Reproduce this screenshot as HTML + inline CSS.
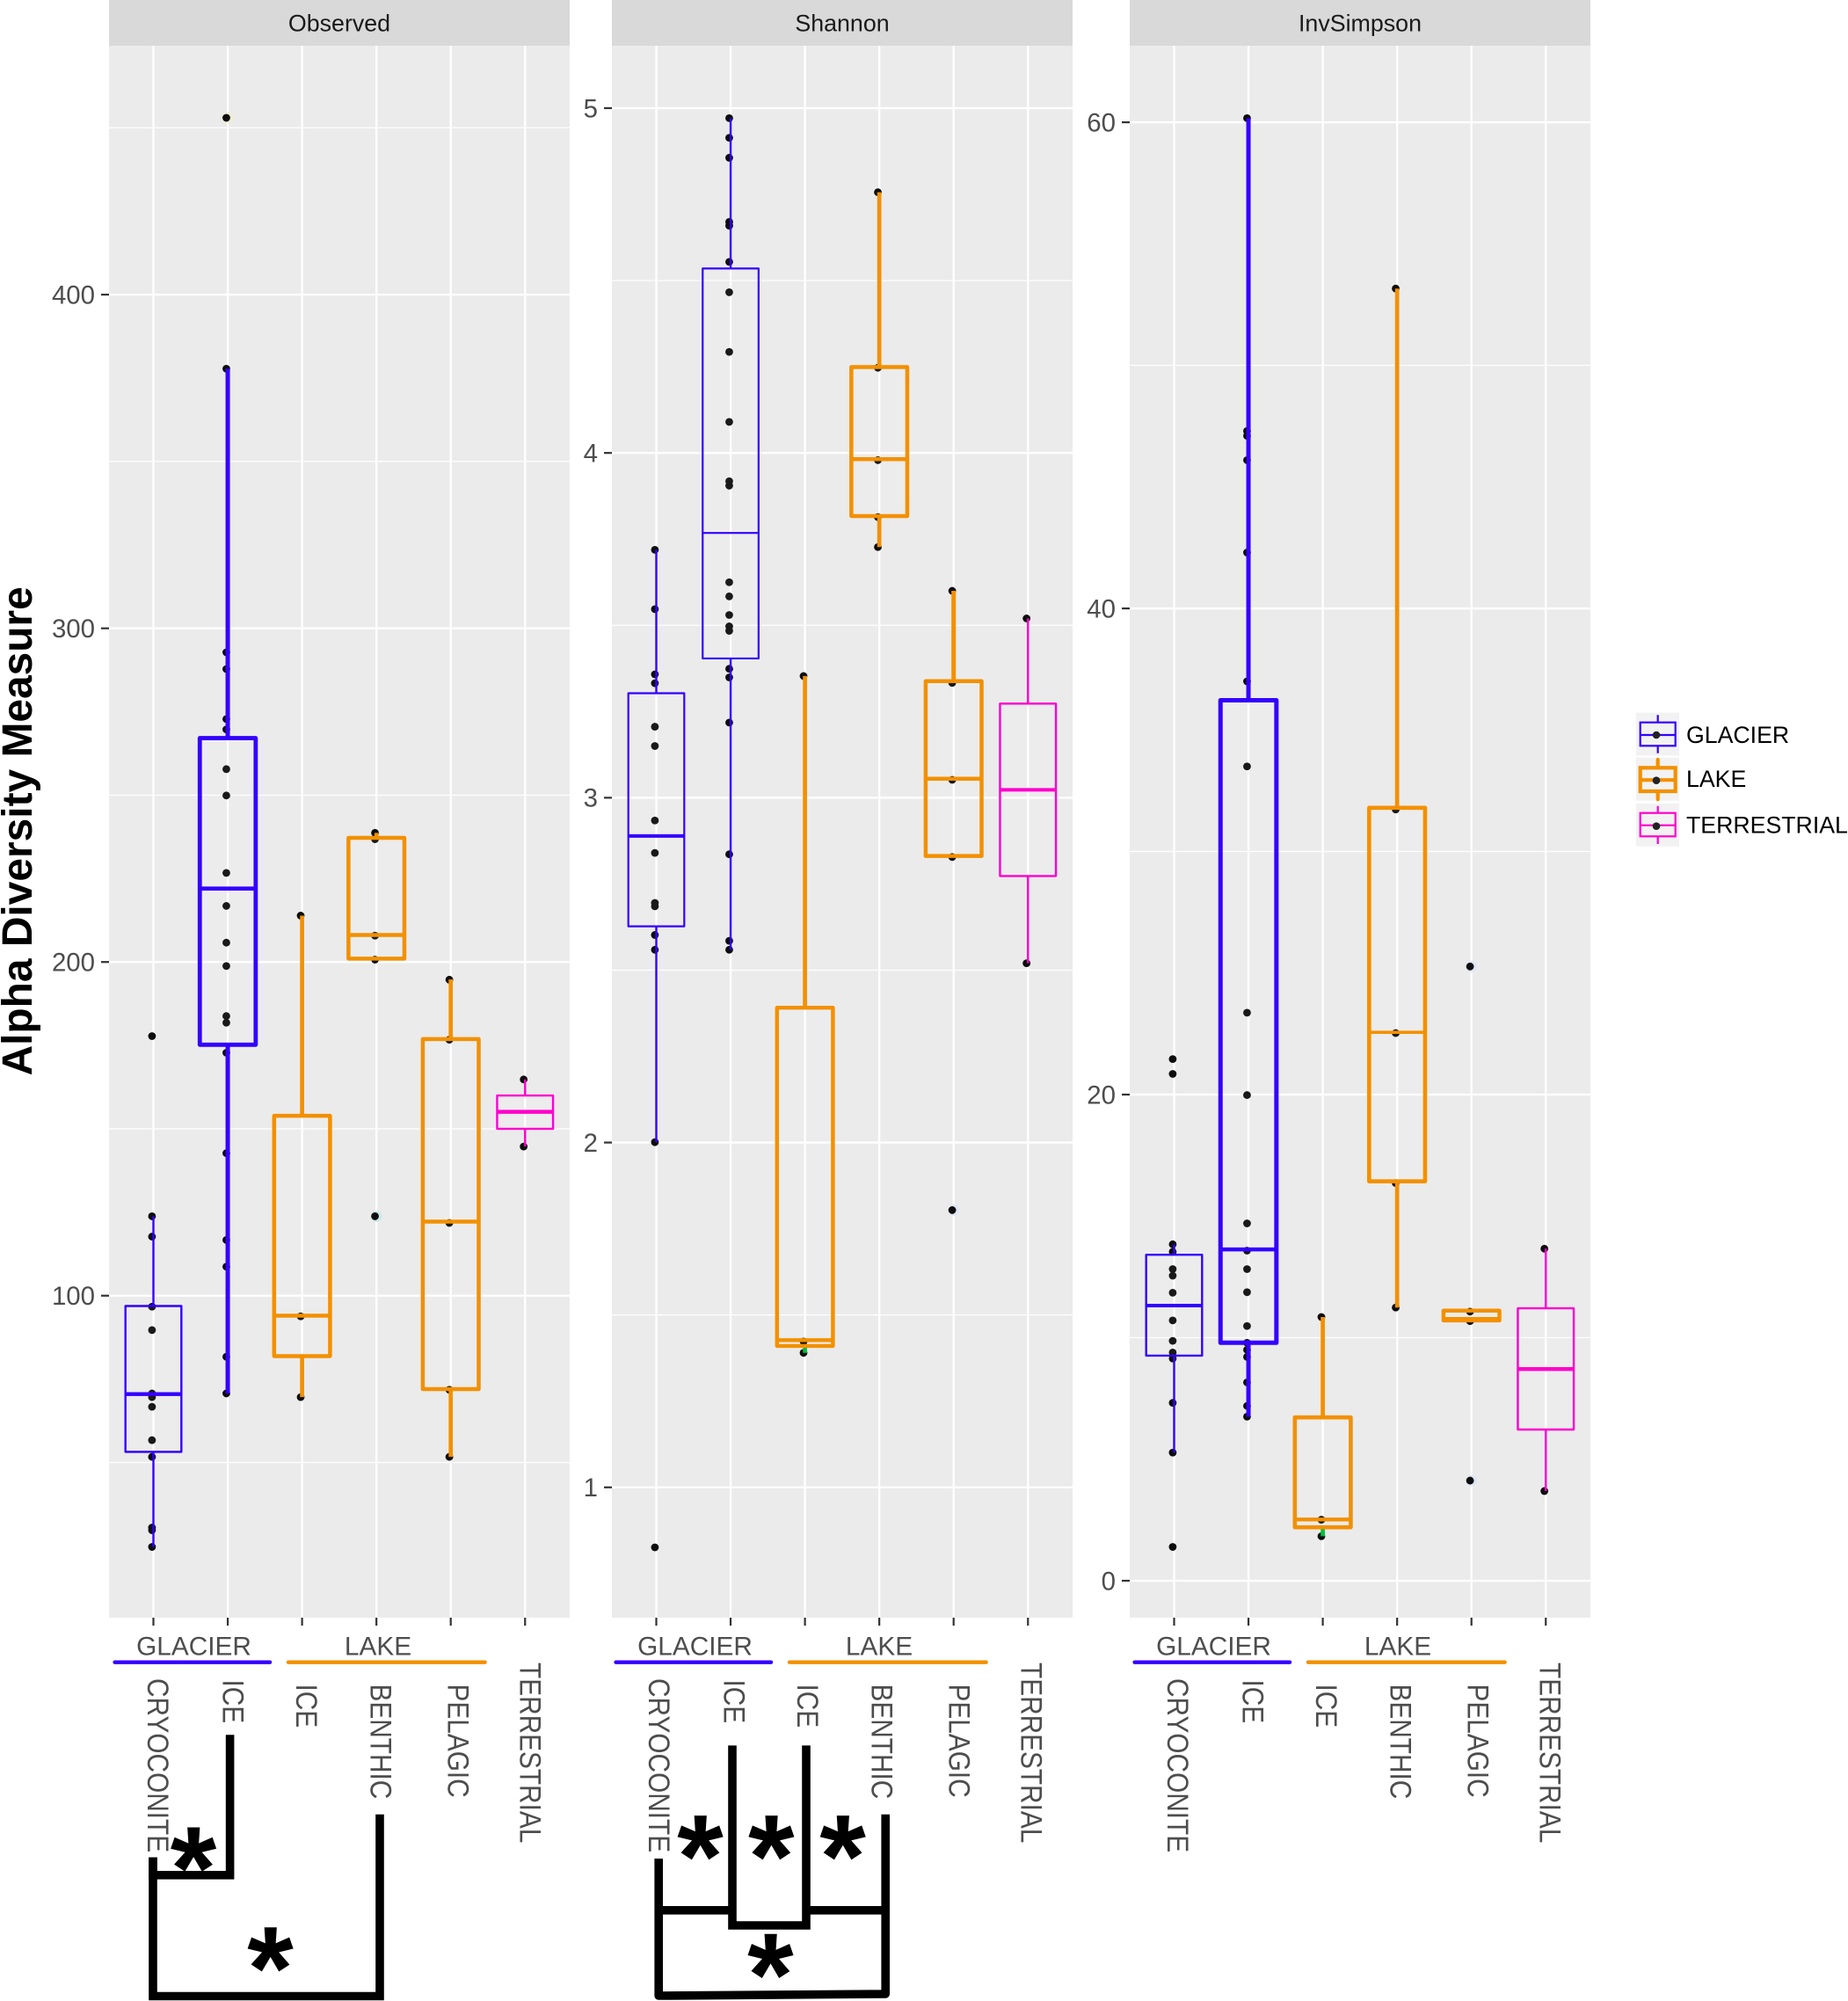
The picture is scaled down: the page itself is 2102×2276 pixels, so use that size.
<!DOCTYPE html>
<html lang="en">
<head>
<meta charset="utf-8">
<title>Alpha Diversity Measure</title>
<style>
html,body{margin:0;padding:0;background:#fff;width:2102px;height:2276px;overflow:hidden}
svg{position:absolute;left:0;top:0;font-family:"Liberation Sans",sans-serif}
.star{font-weight:bold;font-size:135px;text-anchor:middle;fill:#000}
.legend-label{font-size:26.7px;fill:#000}
</style>
</head>
<body>
<svg id="chart" width="2102" height="2276" viewBox="0 0 2102 2276" xmlns="http://www.w3.org/2000/svg">
  <rect x="0" y="0" width="2102" height="2276" fill="#ffffff"/>
  <text transform="translate(36,1223.5) rotate(-90)" font-size="47.9" font-weight="bold" fill="#000">Alpha Diversity Measure</text>

  <g id="panels"></g>

  <g>
    <g>
      <rect x="1861" y="810.7" width="49" height="48.7" fill="#f2f2f2"/>
      <path d="M1885.7 813.3V821.7M1885.7 848.3V856.7" stroke="#3300ff" stroke-width="2.2" fill="none"/>
      <rect x="1865.7" y="821.7" width="40" height="26.6" stroke="#3300ff" stroke-width="2.2" fill="none"/>
      <path d="M1865.7 836H1905.7" stroke="#3300ff" stroke-width="2.2"/>
      <circle cx="1884" cy="836" r="4.3" fill="#222"/>
      <text class="legend-label" x="1918" y="845">GLACIER</text>
    </g>
    <g>
      <rect x="1861" y="861.7" width="49" height="49" fill="#f2f2f2"/>
      <path d="M1885.7 864V873.3M1885.7 900V909.3" stroke="#f39000" stroke-width="4.2" fill="none" stroke-linecap="round"/>
      <rect x="1865.7" y="873.3" width="40" height="26.7" stroke="#f39000" stroke-width="4.2" fill="none"/>
      <path d="M1865.7 887.2H1905.7" stroke="#f39000" stroke-width="4.2"/>
      <circle cx="1884" cy="887.7" r="4.3" fill="#222"/>
      <text class="legend-label" x="1918" y="895">LAKE</text>
    </g>
    <g>
      <rect x="1861" y="914" width="49" height="48.7" fill="#f2f2f2"/>
      <path d="M1885.7 916.7V924.7M1885.7 951.3V960" stroke="#ff00cc" stroke-width="2.2" fill="none"/>
      <rect x="1865.7" y="924.7" width="40" height="26.6" stroke="#ff00cc" stroke-width="2.2" fill="none"/>
      <path d="M1865.7 938.7H1905.7" stroke="#ff00cc" stroke-width="2.2"/>
      <circle cx="1884" cy="939.7" r="4.3" fill="#222"/>
      <text class="legend-label" x="1918" y="947.7">TERRESTRIAL</text>
    </g>
  </g>

  <g>
    <path d="M174 2112.6V2132.8H261.6V1973.3" fill="none" stroke="#000" stroke-width="9.6"/>
    <path d="M174 2112.6V2270.5H432V2063.7" fill="none" stroke="#000" stroke-width="9.6"/>
    <text class="star" x="220" y="2171.4">*</text>
    <text class="star" x="307.5" y="2285.2">*</text>
  </g>
  <g>
    <path d="M749.2 2114V2270L1007.2 2268V2063.7" fill="none" stroke="#000" stroke-width="9.6" stroke-linejoin="round"/>
    <path d="M749.2 2172.8H833" fill="none" stroke="#000" stroke-width="9.6"/>
    <path d="M833 1985.4V2190H917V1985.4" fill="none" stroke="#000" stroke-width="9.6"/>
    <path d="M917 2172.8H1007.2" fill="none" stroke="#000" stroke-width="9.6"/>
    <text class="star" x="796.5" y="2158">*</text>
    <text class="star" x="877.3" y="2158">*</text>
    <text class="star" x="958.6" y="2158">*</text>
    <text class="star" x="876.4" y="2292.7">*</text>
  </g>
</svg>
<script>
// ---- shared categories ----
const categories = ['CRYOCONITE', 'ICE', 'ICE', 'BENTHIC', 'PELAGIC', 'TERRESTRIAL'];
const habitats = ['GLACIER', 'GLACIER', 'LAKE', 'LAKE', 'LAKE', 'TERRESTRIAL'];
const panelTitles = ['Observed', 'Shannon', 'InvSimpson'];

// ---- tick labels ----
const observedMajorTicks = [100, 200, 300, 400];
const observedMinorTicks = [50, 150, 250, 350, 450];
const shannonMajorTicks = [1, 2, 3, 4, 5];
const shannonMinorTicks = [1.5, 2.5, 3.5, 4.5];
const invSimpsonMajorTicks = [0, 20, 40, 60];
const invSimpsonMinorTicks = [10, 30, 50];

// ---- individual samples, per category ----
const observedPoints = [
  [177.8, 123.8, 117.7, 96.7, 89.7, 70.7, 69.6, 66.7, 56.7, 51.7, 30.5, 29.7, 24.7],
  [453, 377.8, 292.8, 287.8, 272.8, 269.7, 257.8, 249.9, 226.7, 216.8, 205.8, 198.8, 183.8, 181.8, 172.8, 142.7, 116.7, 108.7, 81.7, 70.7],
  [213.9, 93.8, 69.6],
  [238.7, 236.8, 207.9, 200.7, 123.8],
  [194.7, 176.7, 121.8, 71.8, 51.7],
  [164.8, 144.7]
];
const shannonPoints = [
  [3.719, 3.547, 3.358, 3.332, 3.206, 3.15, 2.934, 2.84, 2.695, 2.685, 2.602, 2.559, 2.001, 0.826],
  [4.971, 4.914, 4.856, 4.67, 4.659, 4.554, 4.466, 4.293, 4.09, 3.918, 3.905, 3.625, 3.584, 3.53, 3.497, 3.484, 3.374, 3.349, 3.218, 2.836, 2.585, 2.559],
  [3.353, 1.423, 1.39],
  [4.756, 4.247, 3.979, 3.814, 3.727],
  [3.6, 3.333, 3.052, 2.828, 1.804],
  [3.52, 2.52]
];
const invSimpsonPoints = [
  [21.46, 20.85, 13.84, 13.53, 12.82, 12.55, 11.85, 10.71, 9.87, 9.39, 9.14, 7.32, 5.27, 1.39],
  [60.17, 47.3, 47.1, 46.1, 42.3, 37.0, 33.5, 23.37, 19.98, 14.7, 13.58, 12.82, 11.87, 10.48, 9.79, 9.5, 9.21, 8.16, 7.19, 6.75],
  [10.85, 2.51, 1.83],
  [53.16, 31.73, 22.53, 16.36, 11.24],
  [25.27, 11.07, 10.68, 4.12],
  [13.66, 3.69]
];

// ---- box summaries: whisker low, Q1, median, Q3, whisker high ----
const observedBoxes = [
  [24.7, 53.2, 70.5, 96.9, 123.8],
  [70.7, 175.2, 222, 267.1, 377.8],
  [69.6, 81.9, 94, 153.9, 213.9],
  [200.9, 201, 208.1, 237.2, 238.7],
  [51.7, 72, 122.2, 176.9, 194.8],
  [144.7, 150, 155.1, 160, 164.8]
];
const shannonBoxes = [
  [2.001, 2.627, 2.889, 3.303, 3.719],
  [2.559, 3.404, 3.768, 4.535, 4.971],
  [1.39, 1.41, 1.427, 2.391, 3.353],
  [3.727, 3.817, 3.982, 4.249, 4.756],
  [2.828, 2.831, 3.055, 3.338, 3.6],
  [2.52, 2.773, 3.023, 3.273, 3.52]
];
const invSimpsonBoxes = [
  [5.27, 9.26, 11.32, 13.41, 13.84],
  [6.75, 9.79, 13.63, 36.22, 60.17],
  [1.83, 2.2, 2.52, 6.72, 10.85],
  [11.24, 16.43, 22.56, 31.8, 53.16],
  [10.68, 10.71, 10.77, 11.11, 11.11],
  [3.69, 6.22, 8.71, 11.21, 13.66]
];

// ---- faint outlier glyphs behind the samples ----
const observedOutliers = [[], [453], [], [123.8], [], []];
const shannonOutliers = [[], [], [], [], [1.804], []];
const invSimpsonOutliers = [[], [], [], [], [25.27, 4.12], []];

// ---- styling and layout (not data) ----
const habitatColors = {GLACIER: '#3300ff', LAKE: '#f39000', TERRESTRIAL: '#ff00cc'};
const outlierTints = ['#efeed6', '#cfe8e8', '#dfe6f5'];
const lowWhiskerGreen = '#00c040';
const strokeSets = [
  [[2.4,4.4,2.4],[4.8,4.6,5],[4.5,4.5,4.7],[4.5,4.5,4.5],[4.5,4.5,4.7],[2.4,4.4,2.4]],
  [[2.2,4,2.4],[2.2,2.2,2.4],[4.4,4.4,4.7],[4.5,4.5,4.7],[4.5,4.5,5],[2.4,4,2.4]],
  [[2.4,4,2.4],[5,4.4,5],[4.6,4.4,4.7],[4.6,3.6,4.7],[4.5,4.5,4.5],[2.4,4.4,2.4]]
];
const PANEL_TOP = 52, PANEL_BOTTOM = 1840, PANEL_W = 524;
const panelLeft = [124, 696, 1285];
const yDomains = [[3.5, 474.6], [0.622, 5.181], [-1.52, 63.15]];
const labelOffset = [0, 570, 1160];
const labelLeft = [168, 253.3, 337.2, 421.5, 509.5, 591.5];
const labelTop = [1909, 1910.5, 1915.5, 1915.5, 1915.5, 1891];

const panelData = [
  {points: observedPoints, boxes: observedBoxes, outliers: observedOutliers, major: observedMajorTicks, minor: observedMinorTicks},
  {points: shannonPoints, boxes: shannonBoxes, outliers: shannonOutliers, major: shannonMajorTicks, minor: shannonMinorTicks},
  {points: invSimpsonPoints, boxes: invSimpsonBoxes, outliers: invSimpsonOutliers, major: invSimpsonMajorTicks, minor: invSimpsonMinorTicks}
];

const NS = 'http://www.w3.org/2000/svg';
function mk(parent, tag, attrs, text) {
  const el = document.createElementNS(NS, tag);
  for (const k in attrs) el.setAttribute(k, attrs[k]);
  if (text !== undefined) el.textContent = text;
  parent.appendChild(el);
  return el;
}
function xAxis(p, i) { return panelLeft[p] + 50.5 + i * 84.55; }
function yAxis(p, v) {
  const d = yDomains[p];
  return PANEL_BOTTOM - (v - d[0]) / (d[1] - d[0]) * (PANEL_BOTTOM - PANEL_TOP);
}

const root = document.getElementById('panels');
panelData.forEach(function (data, p) {
  const L = panelLeft[p];
  const g = mk(root, 'g', {});
  
  

  const strip = mk(g, 'rect', {x: L, y: 0, width: PANEL_W, height: PANEL_TOP, fill: '#d9d9d9'});
  
  
  const title = mk(g, 'text', {x: L + PANEL_W / 2, y: 35.5, 'text-anchor': 'middle', 'font-size': 26.8, fill: '#1a1a1a'}, panelTitles[p]);
  
  
  const bg = mk(g, 'rect', {x: L, y: PANEL_TOP, width: PANEL_W, height: PANEL_BOTTOM - PANEL_TOP, fill: '#ebebeb'});
  
  

  data.minor.forEach(function (t) {
    const y = yAxis(p, t);
    const line = mk(g, 'line', {x1: L, x2: L + PANEL_W, y1: y, y2: y, stroke: '#fff', 'stroke-width': 1.2});
    
    
  });
  data.major.forEach(function (t) {
    const y = yAxis(p, t);
    const line = mk(g, 'line', {x1: L, x2: L + PANEL_W, y1: y, y2: y, stroke: '#fff', 'stroke-width': 2.3});
    
    
    const tick = mk(g, 'line', {x1: L - 9, x2: L, y1: y, y2: y, stroke: '#333', 'stroke-width': 2.2});
    
    
    const lab = mk(g, 'text', {x: L - 16, y: y + 10.3, 'text-anchor': 'end', 'font-size': 29.4, fill: '#4d4d4d'}, String(t));
    
    
  });

  categories.forEach(function (cat, i) {
    const cx = xAxis(p, i);
    const color = habitatColors[habitats[i]];
    const grid = mk(g, 'line', {x1: cx, x2: cx, y1: PANEL_TOP, y2: PANEL_BOTTOM, stroke: '#fff', 'stroke-width': 2.3});
    
    
    const tick = mk(g, 'line', {x1: cx, x2: cx, y1: PANEL_BOTTOM, y2: PANEL_BOTTOM + 9, stroke: '#333', 'stroke-width': 2.2});
    
    

    const lx = labelLeft[i] + labelOffset[p];
    const ly = labelTop[i];
    const catLabel = mk(g, 'text', {transform: 'translate(' + lx + ',' + ly + ') rotate(90) scale(1,1.15)', 'font-size': 29.8, fill: '#4d4d4d'}, cat);
    
    

    data.outliers[i].forEach(function (v, k) {
      const tint = p === 0 ? outlierTints[i === 1 ? 0 : 1] : outlierTints[2];
      const halo = mk(g, 'circle', {cx: cx, cy: yAxis(p, v), r: 6.4, fill: tint});
      
      
    });

    data.points[i].forEach(function (v) {
      const dot = mk(g, 'circle', {cx: cx - 1.6, cy: yAxis(p, v), r: 4.4, fill: '#0d0d0d'});
      
      
    });

    const b = data.boxes[i];
    const s = strokeSets[p][i];
    const yLow = yAxis(p, b[0]), yQ1 = yAxis(p, b[1]), yMed = yAxis(p, b[2]), yQ3 = yAxis(p, b[3]), yHigh = yAxis(p, b[4]);
    const upper = mk(g, 'line', {x1: cx, x2: cx, y1: yHigh, y2: yQ3, stroke: color, 'stroke-width': s[2]});
    
    
    const lowColor = (i === 2 && p > 0) ? lowWhiskerGreen : color;
    const lower = mk(g, 'line', {x1: cx, x2: cx, y1: yQ1, y2: yLow, stroke: lowColor, 'stroke-width': s[2]});
    
    
    const box = mk(g, 'rect', {x: cx - 31.8, y: yQ3, width: 63.6, height: yQ1 - yQ3, fill: 'rgba(255,255,255,0.05)', stroke: color, 'stroke-width': s[0], 'stroke-linejoin': 'round'});
    
    
    const median = mk(g, 'line', {x1: cx - 31.8, x2: cx + 31.8, y1: yMed, y2: yMed, stroke: color, 'stroke-width': s[1]});
    
    
  });

  const off = labelOffset[p];
  const glacierLine = mk(g, 'line', {x1: 130.6 + off, x2: 307 + off, y1: 1890.7, y2: 1890.7, stroke: habitatColors.GLACIER, 'stroke-width': 4.4, 'stroke-linecap': 'round'});
  
  
  const lakeLine = mk(g, 'line', {x1: 328 + off, x2: 551.6 + off, y1: 1890.7, y2: 1890.7, stroke: habitatColors.LAKE, 'stroke-width': 4.4, 'stroke-linecap': 'round'});
  
  
  const glacierLabel = mk(g, 'text', {x: 220.5 + off, y: 1882.6, 'text-anchor': 'middle', 'font-size': 29.8, fill: '#4d4d4d'}, 'GLACIER');
  
  
  const lakeLabel = mk(g, 'text', {x: 430 + off, y: 1882.6, 'text-anchor': 'middle', 'font-size': 29.8, fill: '#4d4d4d'}, 'LAKE');
  
  
});
</script>
</body>
</html>
